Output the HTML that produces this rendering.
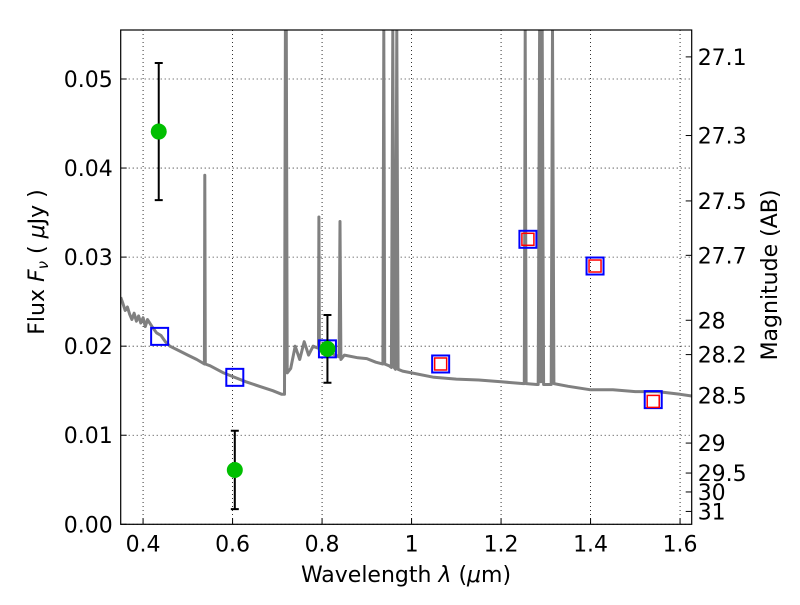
<!DOCTYPE html>
<html><head><meta charset="utf-8"><style>
body{margin:0;background:#fff}
svg text{font-family:"DejaVu Sans","Liberation Sans",sans-serif;fill:#000}
</style></head><body>
<svg id="chart" width="800" height="600"></svg>
<script>
const specLam=[0.35,0.355,0.36,0.365,0.37,0.375,0.38,0.385,0.39,0.395,0.40,0.405,0.41,0.42,0.43,0.44,0.45,0.46,0.48,0.50,0.52,0.537,0.538,0.539,0.55,0.58,0.60,0.63,0.66,0.69,0.71,0.716,0.718,0.720,0.722,0.73,0.74,0.75,0.76,0.77,0.78,0.79,0.792,0.793,0.794,0.80,0.81,0.82,0.83,0.838,0.840,0.842,0.85,0.88,0.90,0.92,0.936,0.938,0.940,0.95,0.955,0.958,0.961,0.964,0.967,0.970,0.98,1.0,1.05,1.1,1.15,1.2,1.25,1.252,1.254,1.256,1.28,1.283,1.286,1.289,1.292,1.295,1.312,1.315,1.318,1.35,1.4,1.45,1.5,1.55,1.6,1.626];
const specFlux=[0.0255,0.0248,0.0240,0.0244,0.0236,0.0230,0.0237,0.0228,0.0234,0.0226,0.0232,0.0222,0.0230,0.0222,0.0215,0.0212,0.0205,0.0200,0.0195,0.0190,0.0185,0.0180,0.0392,0.0180,0.0178,0.0170,0.0166,0.0160,0.0155,0.0150,0.0146,0.0146,0.0555,0.0555,0.0170,0.0175,0.0200,0.0185,0.0205,0.0190,0.0200,0.0198,0.0200,0.0345,0.0195,0.0197,0.0193,0.0192,0.0190,0.0188,0.0340,0.0185,0.0190,0.0187,0.0186,0.0182,0.0180,0.0555,0.0180,0.0178,0.0176,0.0555,0.0176,0.0174,0.0555,0.0174,0.0172,0.0170,0.0165,0.0163,0.0162,0.0160,0.0158,0.0158,0.0555,0.0158,0.0157,0.0157,0.0555,0.0160,0.0555,0.0157,0.0157,0.0555,0.0158,0.0155,0.0151,0.0151,0.0149,0.0149,0.0146,0.0144];
const modelLam=[0.437,0.605,0.812,1.065,1.26,1.41,1.54];
const modelFlux=[0.0211,0.0165,0.0197,0.0180,0.0320,0.0290,0.0140];
const synthLam=[1.065,1.26,1.41,1.54];
const synthFlux=[0.0180,0.0320,0.0290,0.0138];
const obsLam=[0.435,0.605,0.812];
const obsFlux=[0.0441,0.0061,0.0197];
const obsErr=[0.0077,0.0044,0.0038];
const xTicks=[0.4,0.6,0.8,1.0,1.2,1.4,1.6];
const xTickLabels=["0.4","0.6","0.8","1","1.2","1.4","1.6"];
const yTicks=[0,0.01,0.02,0.03,0.04,0.05];
const yTickLabels=["0.00","0.01","0.02","0.03","0.04","0.05"];
const magTicks=[27.1,27.3,27.5,27.7,28,28.2,28.5,29,29.5,30,31];
const magTickLabels=["27.1","27.3","27.5","27.7","28","28.2","28.5","29","29.5","30","31"];

const L=120.7,R=691.7,T=30,B=524.3,X0=0.35,X1=1.626,Y0=0,Y1=0.0555;
const sx=v=>L+(v-X0)/(X1-X0)*(R-L);
const sy=v=>B-(v-Y0)/(Y1-Y0)*(B-T);
const svg=document.getElementById('chart');
const NS='http://www.w3.org/2000/svg';
function mk(t,a){const e=document.createElementNS(NS,t);for(const k in a)e.setAttribute(k,a[k]);svg.appendChild(e);return e;}
xTicks.forEach((v,i)=>{const g=mk('line',{x1:sx(v),x2:sx(v),y1:T,y2:B,stroke:'#000','stroke-width':0.8,'stroke-dasharray':'1,3'});


const tk=mk('line',{x1:sx(v),x2:sx(v),y1:B,y2:B-6,stroke:'#000'});


const t=mk('text',{x:sx(v),y:B+27,'text-anchor':'middle','font-size':22});t.textContent=xTickLabels[i];

});
yTicks.forEach((v,i)=>{const g=mk('line',{x1:L,x2:R,y1:sy(v),y2:sy(v),stroke:'#000','stroke-width':0.8,'stroke-dasharray':'1,3'});


const tk=mk('line',{x1:L,x2:L+6,y1:sy(v),y2:sy(v),stroke:'#000'});


const t=mk('text',{x:L-8,y:sy(v)+8,'text-anchor':'end','font-size':22});t.textContent=yTickLabels[i];

});
magTicks.forEach((m,i)=>{const f=Math.pow(10,(23.9-m)/2.5);const y=sy(f);
const tk=mk('line',{x1:R,x2:R-6,y1:y,y2:y,stroke:'#000'});


const t=mk('text',{x:R+6,y:y+8,'font-size':22});t.textContent=magTickLabels[i];

});
const pts=specLam.map((l,i)=>sx(l).toFixed(1)+','+sy(specFlux[i]).toFixed(1)).join(' ');
const cp=mk('clipPath',{id:'cp'});const cr=document.createElementNS(NS,'rect');cr.setAttribute('x',L);cr.setAttribute('y',T);cr.setAttribute('width',R-L);cr.setAttribute('height',B-T);cp.appendChild(cr);
const sp=mk('polyline',{points:pts,fill:'none',stroke:'#808080','stroke-width':3,'stroke-linejoin':'round','clip-path':'url(#cp)'});


modelLam.forEach((l,i)=>{const s=mk('rect',{x:sx(l)-8.5,y:sy(modelFlux[i])-8.5,width:17,height:17,fill:'none',stroke:'#0000ff','stroke-width':2});

});
synthLam.forEach((l,i)=>{const s=mk('rect',{x:sx(l)-6,y:sy(synthFlux[i])-6,width:12,height:12,fill:'none',stroke:'#ff0000','stroke-width':1.5});

});
obsLam.forEach((l,i)=>{const x=sx(l),y1=sy(obsFlux[i]-obsErr[i]),y2=sy(obsFlux[i]+obsErr[i]);
const e=mk('path',{d:`M${x},${y1}V${y2}M${x-4},${y1}H${x+4}M${x-4},${y2}H${x+4}`,stroke:'#000','stroke-width':2,fill:'none'});


const c=mk('circle',{cx:x,cy:sy(obsFlux[i]),r:8,fill:'#00bf00'});

});
const fr=mk('rect',{x:L,y:T,width:R-L,height:B-T,fill:'none',stroke:'#000','stroke-width':1.2});


</script>
<svg width="800" height="600" style="position:absolute;left:0;top:0">
<text x="406" y="582" text-anchor="middle" font-size="22">Wavelength  <tspan font-style="italic">λ</tspan> (<tspan font-style="italic">μ</tspan>m)</text>
<text transform="translate(44,262) rotate(-90)" text-anchor="middle" font-size="22">Flux  <tspan font-style="italic">F</tspan><tspan font-style="italic" font-size="15" dy="4">ν</tspan><tspan dy="-4">  ( </tspan><tspan font-style="italic">μ</tspan>Jy )</text>
<text transform="translate(777,275) rotate(-90)" text-anchor="middle" font-size="22">Magnitude (AB)</text>
</svg>
</body></html>
